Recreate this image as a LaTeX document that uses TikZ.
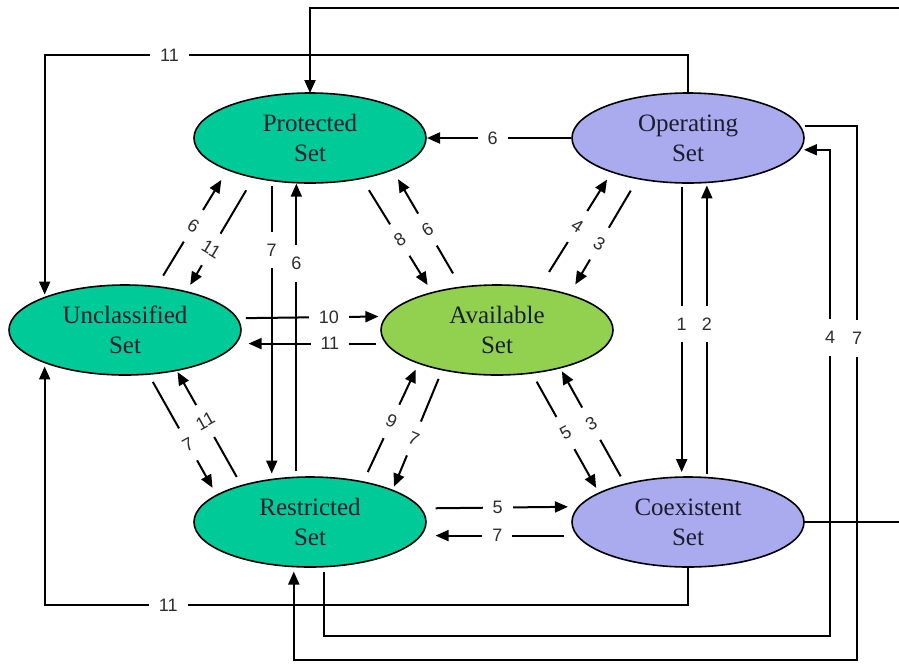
\documentclass[tikz,border=0pt]{standalone}
\usepackage{fontspec}
\setmainfont{Liberation Serif}
\newfontfamily\lblfont{Liberation Sans}
\usetikzlibrary{shapes.geometric,arrows.meta}
\definecolor{setgreen}{RGB}{0,202,152}
\definecolor{setlime}{RGB}{146,208,80}
\definecolor{setlav}{RGB}{170,170,238}
\definecolor{lblgray}{RGB}{45,45,45}
\definecolor{txtdark}{RGB}{25,30,45}
\begin{document}
\begin{tikzpicture}[x=1pt,y=-1pt,
  stateset/.style={ellipse, draw=black, line width=1.6pt, minimum width=232pt, minimum height=90pt, inner sep=0pt, outer sep=0pt, align=center, text=txtdark, font=\fontsize{25}{30}\selectfont},
  conn/.style={line width=2pt, draw=black},
  arr/.style={conn, -{Triangle[length=13pt,width=11pt]}},
  lblbase/.style={fill=white, text=lblgray, font=\lblfont\fontsize{18}{18}\selectfont, inner sep=0pt},
  hl/.style={lblbase, inner xsep=10pt, inner ysep=1pt},
  vl/.style={lblbase, inner xsep=1pt, inner ysep=12pt},
]
\useasboundingbox (0,0) rectangle (899,665);

\node[stateset, fill=setgreen] (prot)  at (310,138) {Protected\\Set};
\node[stateset, fill=setlav]   (op)    at (688,138) {Operating\\Set};
\node[stateset, fill=setgreen] (unc)   at (125,330) {Unclassified\\Set};
\node[stateset, fill=setlime]  (avail) at (497,330) {Available\\Set};
\node[stateset, fill=setgreen] (restr) at (310,522) {Restricted\\Set};
\node[stateset, fill=setlav]   (coex)  at (688,522) {Coexistent\\Set};

% diagonals
\draw[arr, shorten <=13pt, shorten >=12pt] (unc.54.7) -- node[vl,rotate=-32,pos=0.52]{6} (prot.201.2);
\draw[arr, shorten <=15pt, shorten >=8pt] (prot.215.4) -- node[vl,rotate=-31,pos=0.63]{11} (unc.32.2);
\draw[arr, shorten <=14pt, shorten >=9pt] (prot.-38.6) -- node[vl,rotate=32,pos=0.54]{8} (avail.150.4);
\draw[arr, shorten <=16pt, shorten >=11pt] (avail.130.9) -- node[vl,rotate=31,pos=0.49]{6} (prot.-21.7);
\draw[arr, shorten <=19pt, shorten >=9pt] (avail.45.8) -- node[vl,rotate=-33,pos=0.53]{4} (op.204);
\draw[arr, shorten <=14pt, shorten >=12pt] (op.219.3) -- node[vl,rotate=-31,pos=0.56]{3} (avail.26.3);
\draw[arr, shorten <=9pt, shorten >=8.5pt] (unc.-62) -- node[vl,rotate=29,pos=0.58]{7} (restr.164.5);
\draw[arr, shorten <=10pt, shorten >=2pt] (restr.152.5) -- node[vl,rotate=29,pos=0.56]{11} (unc.-38);
\draw[arr, shorten <=11pt, shorten >=7pt] (restr.37.2) -- node[vl,rotate=-25,pos=0.51]{9} (avail.203);
\draw[arr, shorten <=10pt, shorten >=4pt] (avail.216) -- node[vl,rotate=-23,pos=0.57]{7} (restr.21.4);
\draw[arr, shorten <=10pt, shorten >=6pt] (avail.-51.6) -- node[vl,rotate=29,pos=0.5]{5} (coex.162.1);
\draw[arr, shorten <=9pt, shorten >=4pt] (coex.149.4) -- node[vl,rotate=29,pos=0.52]{3} (avail.-31.2);

% verticals
\draw[arr, shorten <=6pt, shorten >=6pt] (prot.-132.6) -- node[vl,pos=0.233]{7} (restr.132.6);
\draw[arr, shorten <=6pt, shorten >=1pt] (restr.107.4) -- node[vl,pos=0.726]{6} (prot.-107.4);
\draw[arr, shorten <=4pt, shorten >=5pt] (op.-98.9) -- node[vl,pos=0.48]{1} (coex.98.9);
\draw[arr, shorten <=4pt, shorten >=3pt] (coex.67.95) -- node[vl,pos=0.52]{2} (op.-67.95);

% horizontals
\draw[arr, shorten <=9pt, shorten >=8pt] (unc.6.1) -- node[hl,pos=0.615]{10} (avail.173.9);
\draw[arr, shorten <=10pt, shorten >=13pt] (avail.187.5) -- node[hl,pos=0.375]{11} (unc.-7.5);
\draw[arr, shorten <=1pt, shorten >=1pt] (op.west) -- node[hl,pos=0.543]{6} (prot.east);
\draw[arr, shorten <=15pt, shorten >=11pt] (restr.7.8) -- node[hl,pos=0.487]{5} (coex.172.2);
\draw[arr, shorten <=13pt, shorten >=15pt] (coex.187.8) -- node[hl,pos=0.51]{7} (restr.-7.8);

% routed
\coordinate (topR) at (899,8);
\draw[arr] (topR) -| (prot.north);
\draw[arr, shorten >=3pt] (op.north) -- ++(0,-38) -| node[hl,pos=0.403]{11} (unc.158.8);
\draw[arr, shorten >=4pt] (coex.south) -- ++(0,38) -| node[hl,pos=0.404]{11} (unc.-158.8);
\coordinate (r7) at (857,660);
\draw[arr, shorten <=5pt, shorten >=5pt] (op.6.7) -| node[vl,pos=0.699]{7} (r7) -| (restr.-110.9);
\coordinate (r4) at (830,636);
\draw[arr, shorten <=5pt, shorten >=4pt] (restr.-73.8) |- (r4) |- node[vl,pos=0.307]{4} (op.-6.1);
\coordinate (coexR) at (899,522);
\draw[conn] (coex.east) -- (coexR);
\end{tikzpicture}
\end{document}
